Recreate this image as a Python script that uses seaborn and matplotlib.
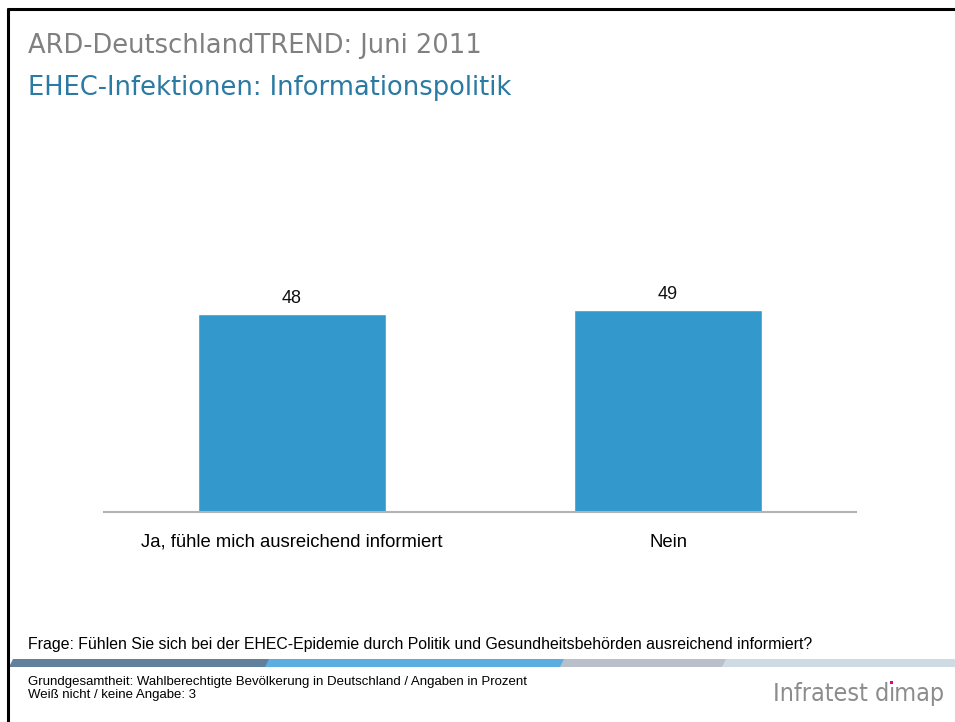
import matplotlib
matplotlib.use("Agg")
import matplotlib.pyplot as plt
import seaborn as sns
import pandas as pd
from matplotlib.patches import Polygon, Rectangle
from matplotlib.lines import Line2D

# data
answers = ["Ja, fühle mich ausreichend informiert", "Nein"]
shares = [48, 49]

title = "ARD-DeutschlandTREND: Juni 2011"
subtitle = "EHEC-Infektionen: Informationspolitik"
question = ("Frage: Fühlen Sie sich bei der EHEC-Epidemie durch Politik und "
            "Gesundheitsbehörden ausreichend informiert?")
note_1 = "Grundgesamtheit: Wahlberechtigte Bevölkerung in Deutschland / Angaben in Prozent"
note_2 = "Weiß nicht / keine Angabe: 3"
logo_a = "Infratest d"
logo_b = "\u0131map"   # dotless i, the dot is drawn in magenta

sns.set_theme(style="white")
plt.rcParams['font.family'] = ['Liberation Sans', 'DejaVu Sans']

W, H = 955, 722
fig = plt.figure(figsize=(W / 100, H / 100), dpi=100)
fig.patch.set_facecolor("white")


def px(x, y):
    # pixel coords (top-left origin) -> figure fraction
    return x / W, 1 - y / H


df = pd.DataFrame({"answer": answers, "share": shares})

ax = fig.add_axes([104 / W, (H - 512) / H, 752 / W, (512 - 130) / H])
sns.barplot(data=df, x="answer", y="share", color="#3399cc", width=0.5,
            saturation=1, ax=ax)
ax.set_xlim(-0.5, 1.5)
ax.set_ylim(0, 92.6)
ax.set_xlabel("")
ax.set_ylabel("")
ax.set_yticks([])
for side in ["top", "right", "left"]:
    ax.spines[side].set_visible(False)
ax.spines["bottom"].set_color("#b3b3b3")
ax.spines["bottom"].set_linewidth(1.5)
ax.tick_params(axis="x", length=0, pad=15.5, labelsize=13.3, labelcolor="black")
ax.set_facecolor("none")
for c in ax.containers:
    ax.bar_label(c, fmt="%d", padding=5, fontsize=13, color="#111111")

# frame lines (top and left)
fig.add_artist(Line2D([8 / W, 1], [1 - 9 / H] * 2, color="black", lw=2.2,
                      transform=fig.transFigure))
fig.add_artist(Line2D([8 / W] * 2, [1 - 9 / H, 0], color="black", lw=2.2,
                      transform=fig.transFigure))

# titles
fig.text(*px(28, 46), title, fontsize=18.5, color="#808080", va="center",
         family="DejaVu Sans")
fig.text(*px(28, 88), subtitle, fontsize=18.5, color="#2a7aa3", va="center",
         family="DejaVu Sans")

# question and notes
fig.text(*px(28, 645), question, fontsize=11.4, color="black", va="center")
fig.text(*px(28, 682), note_1, fontsize=9.5, color="black", va="center")
fig.text(*px(28, 695), note_2, fontsize=9.5, color="black", va="center")

# colored stripe
stripe = [("#61809c", 9, 270), ("#5daee0", 265, 564), ("#b9c0ca", 560, 725),
          ("#cfdbe3", 722, 956)]
y0, y1 = 659, 667
for col, a, b in stripe:
    pts = [px(a, y1), px(a + 4, y0), px(b + 4, y0), px(b, y1)]
    fig.add_artist(Polygon(pts, closed=True, facecolor=col, edgecolor="none",
                           transform=fig.transFigure))

# logo, split so the i can get its magenta dot
logo_kw = dict(fontsize=18, color="#8c8c8c", va="baseline",
               family="DejaVu Sans", fontstretch="condensed")
r = fig.canvas.get_renderer()
t2 = fig.text(*px(945, 701), logo_b, ha="right", **logo_kw)
bb2 = t2.get_window_extent(r)
t1 = fig.text(bb2.x0 / W, 1 - 701 / H, logo_a, ha="right", **logo_kw)
fig.add_artist(Rectangle(((bb2.x0 + 1.5) / W, 1 - 684 / H), 3 / W, 3 / H,
                         facecolor="#e6007e", edgecolor="none",
                         transform=fig.transFigure))

fig.savefig("out.png", dpi=100)
